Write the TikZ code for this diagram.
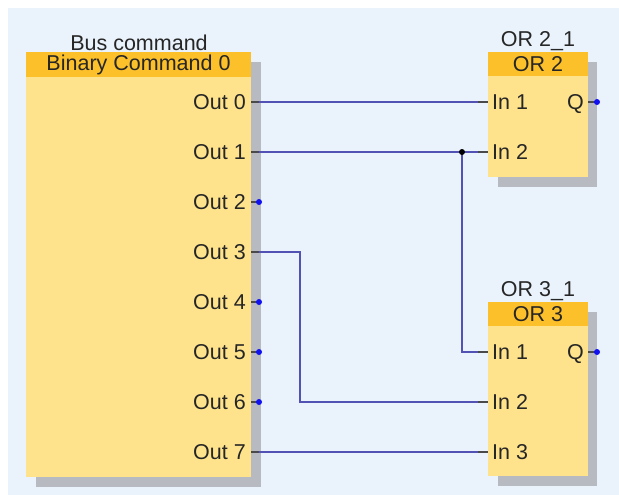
\documentclass[tikz,border=0pt]{standalone}
\usepackage{fontspec}
\setmainfont{Liberation Sans}
\usetikzlibrary{positioning, calc}
\definecolor{bgblue}{HTML}{EAF3FC}
\definecolor{headorange}{HTML}{FCC02A}
\definecolor{bodyyellow}{HTML}{FFE38C}
\definecolor{shadowgrey}{HTML}{B7BBC1}
\definecolor{wireblue}{HTML}{5252B5}
\definecolor{pingrey}{HTML}{4A4A4A}
\definecolor{pinblue}{HTML}{1010F0}

\tikzset{
  fb/.style={font=\fontsize{21.5}{25}\selectfont, text=black!85},
  pinlbl/.style={fb, inner sep=0pt, text depth=0pt},
  wire/.style={wireblue, line width=2pt},
  stub/.style={pingrey, line width=2pt},
  freepin/.style={circle, fill=pinblue, inner sep=0pt, minimum size=6pt},
}

\begin{document}
\begin{tikzpicture}[x=1pt,y=-1pt]
  \fill[bgblue] (8,8) rectangle (619,495);
  \useasboundingbox (0,0) rectangle (619,495);

  % bus command block
  \fill[shadowgrey] (36,62) rectangle (261,487);
  \fill[bodyyellow] (26,52) rectangle (251,477);
  \fill[headorange] (26,52) rectangle (251,77) node[midway, fb] (bctitle) {Binary Command 0};
  \node[fb, above, inner sep=1pt] (bcname) at (139,52) {Bus command};
  \foreach \i in {0,...,7} {
    \node[pinlbl, anchor=east] (out\i) at (246,102+50*\i) {Out \i};
    \coordinate (o\i) at (259,102+50*\i);
    \draw[stub] (251,102+50*\i) -- (o\i);
  }
  \foreach \i in {2,4,5,6}
    \node[freepin] at (o\i) {};

  % OR 2 block
  \fill[shadowgrey] (498,62) rectangle (597,187);
  \fill[bodyyellow] (488,52) rectangle (588,177);
  \fill[headorange] (488,52) rectangle (588,76) node[midway, fb] (or2title) {OR 2};
  \node[fb, above, inner sep=1pt] (or2name) at (538,52) {OR 2\_1};
  \node[pinlbl, anchor=west] (or2lin1) at (492,102) {In 1};
  \node[pinlbl, anchor=west] (or2lin2) at (492,152) {In 2};
  \node[pinlbl, anchor=east] (or2lq) at (584,102) {Q};
  \coordinate (or2in1) at (478,102);
  \coordinate (or2in2) at (478,152);
  \coordinate (or2q) at (597,102);
  \draw[stub] (or2in1) -- ++(10,0);
  \draw[stub] (or2in2) -- ++(10,0);
  \draw[stub] (or2q) -- ++(-9,0);
  \node[freepin] at (or2q) {};

  % OR 3 block
  \fill[shadowgrey] (498,312) rectangle (597,486);
  \fill[bodyyellow] (488,302) rectangle (588,476);
  \fill[headorange] (488,302) rectangle (588,326) node[midway, fb] (or3title) {OR 3};
  \node[fb, above, inner sep=1pt] (or3name) at (538,302) {OR 3\_1};
  \node[pinlbl, anchor=west] (or3lin1) at (492,352) {In 1};
  \node[pinlbl, anchor=west] (or3lin2) at (492,402) {In 2};
  \node[pinlbl, anchor=west] (or3lin3) at (492,452) {In 3};
  \node[pinlbl, anchor=east] (or3lq) at (584,352) {Q};
  \coordinate (or3in1) at (478,352);
  \coordinate (or3in2) at (478,402);
  \coordinate (or3in3) at (478,452);
  \coordinate (or3q) at (597,352);
  \draw[stub] (or3in1) -- ++(10,0);
  \draw[stub] (or3in2) -- ++(10,0);
  \draw[stub] (or3in3) -- ++(10,0);
  \draw[stub] (or3q) -- ++(-9,0);
  \node[freepin] at (or3q) {};

  % wires
  \coordinate (jn) at (462,152);
  \draw[wire] (o0) -- (or2in1);
  \draw[wire] (o1) -- (or2in2);
  \draw[wire] (jn) |- (or3in1);
  \draw[wire] (o3) -- ++(41,0) |- (or3in2);
  \draw[wire] (o7) -- (or3in3);
  \fill (jn) circle (3pt);
\end{tikzpicture}
\end{document}
